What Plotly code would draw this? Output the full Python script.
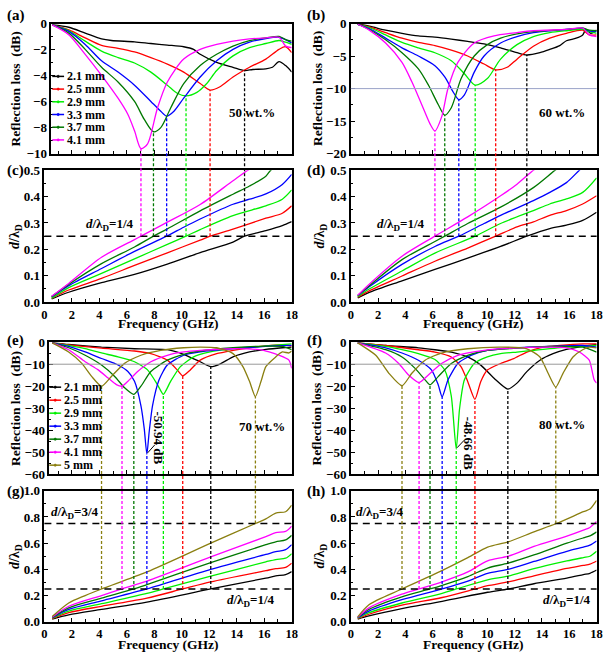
import plotly.graph_objects as go

W, H = 610, 661
FONT = "Liberation Serif"
COLORS = ["#000000", "#ff0000", "#00f000", "#0000ff", "#007800", "#ff00ff", "#8a7f10"]
THICK6 = ["2.1 mm", "2.5 mm", "2.9 mm", "3.3 mm", "3.7 mm", "4.1 mm"]
THICK7 = THICK6 + ["5 mm"]

# ---------------- (a) 50 wt.% reflection loss ----------------
fa = [
    [0.57, 1.77, 2.97, 4.16, 4.88, 6.56, 7.75, 8.95, 10.14, 10.86, 11.34, 12.54, 13.73, 14.57, 15.17, 16.12, 16.6, 17.08, 17.56, 18.0],
    [0.57, 1.77, 2.97, 4.16, 5.36, 6.56, 7.75, 8.95, 10.14, 11.34, 12.06, 12.78, 13.73, 14.93, 16.12, 17.08, 17.56, 18.0],
    [0.57, 1.77, 2.97, 4.16, 5.36, 6.56, 7.75, 8.95, 9.67, 10.31, 11.1, 11.82, 12.54, 13.73, 14.93, 16.12, 17.08, 17.56, 18.0],
    [0.57, 1.77, 2.97, 4.16, 5.36, 6.56, 7.75, 8.47, 8.9, 9.43, 10.14, 11.34, 12.54, 13.73, 14.93, 16.12, 17.08, 17.56, 18.0],
    [0.57, 1.77, 2.97, 4.16, 5.36, 6.56, 7.27, 7.94, 8.47, 9.19, 10.14, 11.34, 12.54, 13.73, 14.93, 16.12, 17.08, 17.56, 18.0],
    [0.57, 1.77, 2.97, 4.16, 5.36, 6.08, 6.56, 7.03, 7.51, 8.23, 8.95, 10.14, 11.34, 12.54, 13.73, 14.93, 16.12, 17.08, 17.56, 18.0],
]
rla = [
    [-0.10, -0.28, -0.73, -1.18, -1.30, -1.40, -1.53, -1.65, -1.78, -1.98, -2.36, -2.98, -3.36, -3.61, -3.53, -3.48, -3.36, -2.93, -3.23, -3.73],
    [-0.10, -0.48, -1.10, -1.68, -1.90, -2.18, -2.61, -3.11, -3.73, -4.61, -5.11, -4.86, -4.11, -3.36, -2.73, -1.98, -1.78, -2.23],
    [-0.10, -0.53, -1.35, -2.11, -2.61, -3.03, -3.73, -4.74, -5.36, -5.56, -5.29, -4.61, -3.61, -2.48, -1.85, -1.53, -1.30, -1.43, -1.60],
    [-0.10, -0.60, -1.60, -2.86, -3.73, -4.74, -5.99, -6.74, -7.12, -6.74, -5.74, -4.11, -2.86, -1.98, -1.43, -1.15, -1.05, -1.23, -1.48],
    [-0.10, -0.73, -1.98, -3.36, -4.49, -5.99, -7.37, -8.32, -8.00, -6.49, -4.61, -3.23, -2.36, -1.73, -1.30, -1.10, -0.98, -1.23, -1.35],
    [-0.10, -0.85, -2.36, -3.98, -5.74, -6.99, -8.25, -9.62, -9.25, -6.49, -4.49, -2.73, -1.98, -1.60, -1.35, -1.18, -1.10, -1.05, -1.73, -1.85],
]
fmin_a = [14.57, 12.06, 10.31, 8.9, 7.94, 7.03]
rlmin_a = [-3.61, -5.11, -5.56, -7.12, -8.32, -9.62]

# ---------------- (b) 60 wt.% reflection loss ----------------
fb = [
    [0.51, 1.35, 2.55, 3.75, 4.95, 6.16, 7.36, 8.56, 9.76, 10.97, 12.17, 12.89, 13.85, 14.57, 15.3, 15.79, 16.5, 16.98, 17.22, 17.58, 18.0],
    [0.51, 1.35, 2.55, 3.75, 4.95, 6.16, 7.36, 8.56, 9.76, 10.61, 11.45, 12.17, 13.37, 14.57, 15.79, 16.98, 17.46, 18.0],
    [0.51, 1.35, 2.55, 3.75, 4.95, 6.16, 7.36, 8.32, 9.11, 10.0, 10.97, 12.17, 13.37, 14.57, 15.79, 16.98, 17.46, 18.0],
    [0.51, 1.35, 2.55, 3.75, 4.95, 6.16, 6.88, 7.48, 7.91, 8.32, 9.04, 9.76, 10.97, 12.17, 13.37, 14.57, 15.79, 16.98, 17.46, 18.0],
    [0.51, 1.35, 2.55, 3.75, 4.95, 5.68, 6.40, 6.88, 7.36, 8.08, 9.04, 10.0, 10.97, 12.17, 13.37, 15.79, 16.98, 17.46, 18.0],
    [0.51, 1.35, 2.55, 3.75, 4.47, 5.19, 5.8, 6.16, 6.64, 7.12, 7.84, 9.04, 10.49, 12.17, 13.37, 15.79, 16.98, 17.46, 18.0],
]
rlb = [
    [-0.1, -0.4, -1.0, -1.49, -1.89, -2.09, -2.39, -2.74, -3.13, -3.73, -4.48, -4.83, -4.48, -3.98, -3.38, -2.64, -2.24, -1.74, -0.9, -1.49, -1.0],
    [-0.1, -0.5, -1.39, -2.24, -2.89, -3.38, -4.08, -4.98, -6.22, -7.11, -6.72, -5.47, -3.48, -2.24, -1.49, -1.0, -1.74, -1.74],
    [-0.1, -0.6, -1.74, -2.89, -3.73, -4.48, -5.72, -7.71, -9.45, -8.46, -5.47, -3.23, -1.99, -1.39, -1.1, -0.9, -1.24, -1.49],
    [-0.1, -0.75, -2.24, -3.73, -4.98, -6.47, -8.21, -10.45, -11.69, -10.95, -7.46, -4.98, -2.99, -1.99, -1.39, -1.1, -0.9, -0.7, -1.1, -1.24],
    [-0.1, -0.9, -2.49, -4.48, -6.97, -9.45, -12.44, -14.08, -12.94, -8.46, -4.98, -3.23, -2.24, -1.59, -1.24, -0.9, -0.7, -1.0, -1.1],
    [-0.1, -1.0, -2.99, -5.97, -8.96, -12.44, -15.42, -16.52, -14.43, -9.95, -5.97, -2.99, -1.89, -1.39, -1.1, -0.9, -0.7, -1.74, -1.99],
]
fmin_b = [12.89, 10.61, 9.11, 7.91, 6.88, 6.16]
rlmin_b = [-4.83, -7.11, -9.45, -11.69, -14.08, -16.52]

# ---------------- (c) 50 wt.% d/lambda ----------------
fc = [
    [0.53, 1.77, 4.16, 6.56, 8.95, 11.34, 13.73, 14.57, 16.12, 17.32, 18.0],
    [0.53, 1.77, 4.16, 6.56, 8.95, 11.34, 12.06, 13.73, 16.12, 17.32, 18.0],
    [0.53, 1.77, 4.16, 6.56, 8.95, 10.31, 11.34, 13.73, 16.12, 17.32, 18.0],
    [0.53, 1.77, 4.16, 6.56, 8.9, 10.14, 11.34, 13.73, 14.93, 16.12, 17.32, 18.0],
    [0.53, 1.77, 4.16, 6.56, 7.94, 8.95, 11.34, 13.73, 14.93, 16.12, 16.48, 17.0],
    [0.53, 1.77, 4.16, 6.56, 7.03, 8.95, 11.34, 13.73, 14.81, 15.3],
]
dc = [
    [0.0125, 0.0375, 0.074, 0.105, 0.144, 0.1875, 0.2275, 0.25, 0.271, 0.29, 0.305],
    [0.015, 0.046, 0.09, 0.139, 0.187, 0.235, 0.25, 0.277, 0.318, 0.337, 0.365],
    [0.015, 0.055, 0.109, 0.164, 0.219, 0.25, 0.275, 0.328, 0.365, 0.39, 0.425],
    [0.02, 0.0625, 0.1275, 0.1925, 0.25, 0.284, 0.315, 0.371, 0.39, 0.41, 0.446, 0.484],
    [0.021, 0.0675, 0.146, 0.209, 0.25, 0.2775, 0.346, 0.409, 0.44, 0.4775, 0.5, 0.515],
    [0.0225, 0.071, 0.17, 0.237, 0.25, 0.303, 0.37, 0.46, 0.5, 0.515],
]

# ---------------- (d) 60 wt.% d/lambda ----------------
fd = [
    [0.51, 1.35, 3.75, 6.16, 8.56, 10.97, 12.89, 14.57, 15.79, 16.98, 18.0],
    [0.51, 1.35, 3.75, 6.16, 8.56, 10.61, 12.17, 13.37, 14.57, 15.79, 16.98, 18.0],
    [0.51, 1.35, 3.75, 6.16, 9.11, 10.97, 13.37, 14.57, 15.79, 16.98, 18.0],
    [0.51, 1.35, 3.75, 6.16, 7.91, 9.76, 10.97, 13.37, 14.57, 15.79, 16.74, 17.2],
    [0.51, 1.35, 3.75, 6.16, 6.88, 8.56, 10.97, 13.37, 14.96, 15.5],
    [0.51, 1.35, 3.75, 6.16, 8.56, 10.97, 12.17, 13.37, 13.8],
]
dd = [
    [0.016, 0.037, 0.081, 0.124, 0.167, 0.211, 0.25, 0.279, 0.292, 0.31, 0.341],
    [0.019, 0.043, 0.099, 0.155, 0.205, 0.25, 0.285, 0.304, 0.329, 0.347, 0.372, 0.403],
    [0.021, 0.05, 0.118, 0.186, 0.25, 0.298, 0.347, 0.372, 0.391, 0.416, 0.471],
    [0.024, 0.058, 0.143, 0.211, 0.25, 0.298, 0.329, 0.385, 0.416, 0.453, 0.5, 0.52],
    [0.025, 0.062, 0.161, 0.23, 0.25, 0.298, 0.36, 0.434, 0.5, 0.52],
    [0.026, 0.068, 0.174, 0.25, 0.323, 0.403, 0.447, 0.5, 0.515],
]

# ---------------- (e) 70 wt.% reflection loss ----------------
fe = [
    [0.57, 1.77, 4.16, 6.56, 8.95, 10.14, 11.34, 12.11, 12.78, 13.73, 14.93, 16.12, 17.32, 18.0],
    [0.57, 1.77, 4.16, 6.56, 7.75, 8.95, 9.67, 10.07, 10.62, 11.34, 12.54, 13.73, 14.93, 16.12, 17.32, 18.0],
    [0.57, 1.77, 2.97, 4.16, 5.36, 6.56, 7.51, 8.23, 8.66, 9.19, 9.9, 10.86, 12.06, 13.73, 15.17, 16.6, 18.0],
    [0.57, 1.77, 2.97, 4.16, 5.36, 6.08, 6.56, 7.03, 7.27, 7.46, 7.63, 7.87, 8.35, 8.95, 10.14, 11.34, 13.73, 16.12, 18.0],
    [0.57, 1.77, 2.97, 4.16, 5.12, 5.84, 6.51, 7.03, 7.75, 8.95, 10.14, 11.34, 13.73, 16.12, 17.32, 18.0],
    [0.57, 1.77, 2.97, 3.92, 4.64, 5.24, 5.65, 6.08, 6.79, 7.75, 8.95, 10.14, 11.34, 13.73, 15.65, 16.36, 17.08, 17.8, 18.0],
    [0.57, 1.77, 2.73, 3.44, 4.16, 4.88, 5.84, 7.03, 8.47, 10.14, 11.34, 12.54, 13.73, 14.45, 14.93, 15.36, 15.77, 16.12, 16.84, 17.32, 17.8, 18.0],
]
rle = [
    [-0.3, -1.04, -2.22, -2.96, -3.41, -5.48, -8.89, -11.11, -9.93, -6.67, -4.44, -3.26, -2.52, -2.22],
    [-0.3, -1.19, -2.67, -4.0, -5.19, -8.15, -12.59, -15.26, -12.59, -8.15, -5.19, -3.7, -2.52, -1.63, -1.19, -1.63],
    [-0.3, -1.48, -2.96, -4.89, -6.67, -8.89, -12.59, -19.26, -23.7, -17.78, -11.11, -6.67, -4.44, -2.96, -2.22, -1.48, -0.74],
    [-0.3, -1.93, -4.44, -7.41, -10.37, -13.33, -17.78, -28.9, -39.3, -50.94, -40.7, -28.9, -17.04, -10.37, -5.93, -4.44, -2.96, -1.93, -1.48],
    [-0.3, -2.52, -5.93, -10.37, -15.56, -20.74, -23.7, -20.0, -13.33, -8.15, -5.48, -4.0, -2.52, -1.78, -1.93, -3.41],
    [-0.3, -3.41, -8.89, -12.59, -16.3, -19.26, -20.0, -17.78, -13.33, -8.89, -5.93, -4.44, -3.7, -2.96, -3.41, -4.44, -5.93, -8.15, -11.85],
    [-0.3, -4.44, -9.63, -15.56, -20.0, -15.56, -9.63, -5.93, -3.7, -2.52, -2.22, -2.52, -5.19, -11.11, -17.78, -24.74, -17.78, -11.11, -6.67, -4.44, -4.89, -4.0],
]
fmin_e = [12.11, 10.07, 8.66, 7.46, 6.51, 5.65, 4.16, 15.36]
rlmin_e = [-11.11, -15.26, -23.7, -50.94, -23.7, -20.0, -20.0, -24.74]
dtarget_e = [0.25, 0.25, 0.25, 0.25, 0.25, 0.25, 0.25, 0.75]

# ---------------- (f) 80 wt.% reflection loss ----------------
ff = [
    [0.51, 2.55, 4.95, 6.16, 7.36, 8.56, 9.52, 10.49, 11.5, 12.17, 12.89, 13.85, 14.81, 15.79, 16.98, 18.0],
    [0.51, 2.55, 4.95, 6.16, 7.36, 8.08, 8.56, 9.09, 9.52, 10.0, 10.97, 11.93, 12.89, 13.85, 15.3, 16.98, 18.0],
    [0.51, 2.55, 3.75, 4.95, 6.16, 6.88, 7.36, 7.72, 7.96, 8.32, 9.04, 10.0, 10.97, 12.17, 13.37, 15.79, 18.0],
    [0.51, 2.55, 3.75, 4.95, 5.92, 6.40, 6.69, 7.12, 7.84, 8.8, 10.0, 12.17, 14.57, 16.98, 18.0],
    [0.51, 2.55, 3.75, 4.71, 5.44, 5.8, 6.40, 7.36, 8.56, 10.0, 12.17, 14.57, 16.98, 18.0],
    [0.51, 2.55, 3.51, 4.23, 5.0, 5.68, 6.64, 7.84, 9.76, 12.17, 14.57, 15.79, 16.74, 17.46, 17.82, 18.0],
    [0.51, 1.83, 2.79, 3.75, 4.47, 5.44, 6.64, 8.56, 10.97, 12.89, 13.85, 14.45, 15.01, 15.54, 16.27, 16.98, 17.46, 18.0],
]
rlf = [
    [-0.3, -1.49, -2.53, -3.42, -4.46, -6.7, -10.42, -16.37, -21.3, -18.6, -13.39, -8.18, -5.21, -3.27, -1.93, -1.04],
    [-0.3, -1.49, -3.42, -4.46, -6.7, -11.16, -17.86, -26.0, -17.86, -12.65, -9.67, -7.44, -4.46, -2.53, -1.49, -0.74, -0.74],
    [-0.3, -1.93, -3.42, -5.21, -7.89, -12.65, -24.55, -48.66, -30.5, -17.11, -9.67, -6.7, -5.21, -4.46, -3.72, -2.23, -1.49],
    [-0.3, -2.53, -4.91, -8.18, -12.65, -19.35, -24.85, -17.11, -9.67, -5.95, -3.72, -2.53, -1.93, -1.49, -2.23],
    [-0.3, -3.42, -6.7, -11.9, -17.11, -19.35, -15.63, -9.67, -5.95, -3.72, -2.68, -1.93, -2.23, -4.46],
    [-0.3, -4.91, -9.67, -14.88, -18.3, -14.88, -9.67, -5.95, -3.72, -2.53, -2.23, -2.53, -4.46, -8.18, -17.11, -18.6],
    [-0.3, -5.95, -14.14, -19.8, -14.14, -8.18, -4.91, -2.98, -2.23, -2.98, -6.7, -14.14, -20.4, -14.14, -6.7, -3.42, -2.23, -2.53],
]
fmin_f = [11.5, 9.09, 7.72, 6.69, 5.8, 5.0, 3.75, 15.01]
rlmin_f = [-21.3, -26.0, -48.66, -24.85, -19.35, -18.3, -19.8, -20.4]
dtarget_f = [0.25, 0.25, 0.25, 0.25, 0.25, 0.25, 0.25, 0.75]

# ---------------- (g) 70 wt.% d/lambda ----------------
fg = [
    [0.57, 1.77, 4.16, 7.46, 12.11, 16.12, 16.84, 17.56, 18.0],
    [0.57, 1.77, 4.16, 7.46, 10.07, 12.11, 16.12, 16.84, 17.56, 18.0],
    [0.57, 1.77, 4.16, 7.46, 8.66, 12.11, 16.12, 16.84, 17.56, 18.0],
    [0.57, 1.77, 4.16, 7.46, 12.11, 16.12, 16.84, 17.56, 18.0],
    [0.57, 1.77, 4.16, 6.51, 7.46, 12.11, 16.12, 16.84, 17.56, 18.0],
    [0.57, 1.77, 4.16, 5.65, 7.46, 12.11, 16.12, 16.84, 17.56, 18.0],
    [0.57, 1.77, 2.97, 4.16, 7.46, 12.11, 15.36, 16.12, 16.84, 17.56, 18.0],
]
dg = [
    [0.02, 0.052, 0.094, 0.15, 0.25, 0.333, 0.35, 0.36, 0.383],
    [0.024, 0.069, 0.118, 0.18, 0.25, 0.304, 0.39, 0.405, 0.415, 0.447],
    [0.027, 0.081, 0.138, 0.217, 0.25, 0.348, 0.457, 0.475, 0.485, 0.52],
    [0.03, 0.094, 0.16, 0.25, 0.40, 0.514, 0.535, 0.55, 0.588],
    [0.033, 0.106, 0.18, 0.25, 0.283, 0.452, 0.588, 0.61, 0.625, 0.66],
    [0.035, 0.118, 0.2, 0.25, 0.31, 0.495, 0.65, 0.68, 0.69, 0.73],
    [0.04, 0.143, 0.2, 0.25, 0.38, 0.6, 0.75, 0.785, 0.83, 0.84, 0.89],
]

# ---------------- (h) 80 wt.% d/lambda ----------------
fh = [
    [0.51, 1.33, 3.74, 6.69, 10.02, 11.52, 13.41, 15.82, 17.03, 17.51, 18.0],
    [0.51, 1.33, 3.74, 6.69, 9.11, 10.02, 11.52, 13.41, 15.82, 17.03, 17.51, 18.0],
    [0.51, 1.33, 3.74, 6.69, 7.73, 10.02, 11.52, 13.41, 15.82, 17.03, 17.51, 18.0],
    [0.51, 1.33, 3.74, 6.69, 8.57, 10.02, 11.52, 13.41, 15.82, 17.03, 17.51, 18.0],
    [0.51, 1.33, 3.74, 5.8, 6.69, 8.57, 10.02, 11.52, 13.41, 15.82, 17.03, 17.51, 18.0],
    [0.51, 1.33, 3.74, 5.0, 6.69, 8.57, 10.02, 11.52, 13.41, 15.82, 17.03, 17.51, 18.0],
    [0.51, 1.33, 3.74, 6.16, 8.57, 10.02, 11.52, 13.41, 15.05, 17.03, 17.51, 18.0],
]
dh = [
    [0.02, 0.044, 0.1, 0.156, 0.225, 0.25, 0.29, 0.333, 0.36, 0.37, 0.395],
    [0.024, 0.057, 0.126, 0.185, 0.25, 0.275, 0.304, 0.35, 0.407, 0.43, 0.44, 0.464],
    [0.027, 0.069, 0.143, 0.217, 0.25, 0.32, 0.348, 0.405, 0.464, 0.49, 0.5, 0.538],
    [0.03, 0.081, 0.168, 0.25, 0.31, 0.37, 0.4, 0.46, 0.538, 0.57, 0.585, 0.617],
    [0.032, 0.094, 0.19, 0.25, 0.278, 0.345, 0.41, 0.447, 0.51, 0.6, 0.64, 0.655, 0.686],
    [0.034, 0.106, 0.21, 0.25, 0.305, 0.38, 0.465, 0.5, 0.575, 0.654, 0.7, 0.72, 0.765],
    [0.037, 0.13, 0.25, 0.365, 0.49, 0.57, 0.61, 0.686, 0.75, 0.84, 0.86, 0.926],
]

# ---------------- layout geometry (pixels) ----------------
panels = {
    "a": dict(ax="", x=(49, 293), y=(17, 150), xr=[0.5, 18], yr=[-10, 0], dt=2, mdt=1, lab=False),
    "b": dict(ax="2", x=(353, 602.5), y=(17, 150), xr=[0, 18], yr=[-20, 0], dt=5, mdt=2.5, lab=False),
    "c": dict(ax="3", x=(42, 293), y=(167, 302), xr=[0, 18], yr=[0, 0.5], dt=0.1, mdt=0.05, lab=True),
    "d": dict(ax="4", x=(353, 602.5), y=(167, 302), xr=[0, 18], yr=[0, 0.5], dt=0.1, mdt=0.05, lab=True),
    "e": dict(ax="5", x=(47, 293), y=(343, 478), xr=[0.36, 18], yr=[-60, 0], dt=10, mdt=5, lab=False),
    "f": dict(ax="6", x=(353, 602.5), y=(343, 478), xr=[0, 18], yr=[-60, 0], dt=10, mdt=5, lab=False),
    "g": dict(ax="7", x=(42, 293), y=(495, 629), xr=[0, 18], yr=[0, 1.0], dt=0.2, mdt=0.1, lab=True),
    "h": dict(ax="8", x=(353, 602.5), y=(495, 629), xr=[0, 18], yr=[0, 1.0], dt=0.2, mdt=0.1, lab=True),
}
for p in panels.values():
    p["xd"] = [p["x"][0] / W, p["x"][1] / W]
    p["yd"] = [1 - p["y"][1] / H, 1 - p["y"][0] / H]


def ypaper(p, v):
    return p["yd"][0] + (v - p["yr"][0]) / (p["yr"][1] - p["yr"][0]) * (p["yd"][1] - p["yd"][0])


fig = go.Figure()
layout = {}
shapes = []
annotations = []

for key, p in panels.items():
    a = p["ax"]
    isd = p["yr"][0] >= 0
    layout["xaxis" + a] = dict(
        domain=p["xd"], range=p["xr"], anchor="y" + a, showline=True, linecolor="black",
        linewidth=1.5, mirror=True, ticks="inside", ticklen=4, tickwidth=1.2, tickcolor="black",
        tick0=0, dtick=2, minor=dict(ticks="inside", ticklen=3, dtick=1, tickcolor="black", tickwidth=1),
        showgrid=False, zeroline=False, showticklabels=p["lab"], tickfont=dict(size=12.5),
        fixedrange=True,
    )
    layout["yaxis" + a] = dict(
        domain=p["yd"], range=p["yr"], anchor="x" + a, showline=True, linecolor="black",
        linewidth=1.5, mirror=True, ticks="inside", ticklen=4, tickwidth=1.2, tickcolor="black",
        tick0=0, dtick=p["dt"], minor=dict(ticks="inside", ticklen=2, dtick=p["mdt"], tickcolor="black", tickwidth=1),
        showgrid=False, zeroline=False, tickfont=dict(size=13),
        tickformat=".1f" if isd else "d", fixedrange=True,
    )


def add_curves(p, fl, vl, width=1.3, smooth=0.8):
    a = p["ax"]
    for i, (f, v) in enumerate(zip(fl, vl)):
        fig.add_trace(go.Scatter(
            x=f, y=v, mode="lines", showlegend=False, hoverinfo="skip",
            line=dict(color=COLORS[i], width=width, shape="spline", smoothing=smooth),
            xaxis="x" + a, yaxis="y" + a,
        ))


add_curves(panels["a"], fa, rla)
add_curves(panels["b"], fb, rlb)
add_curves(panels["c"], fc, dc)
add_curves(panels["d"], fd, dd)
add_curves(panels["e"], fe, rle, smooth=0.6)
add_curves(panels["f"], ff, rlf, smooth=0.6)
add_curves(panels["g"], fg, dg)
add_curves(panels["h"], fh, dh)

# reference lines
for key, col in (("b", "#9aa3c8"), ("e", "#9a9a9a"), ("f", "#9a9a9a")):
    a = panels[key]["ax"]
    shapes.append(dict(type="line", xref="x%s domain" % a, yref="y" + a, x0=0, x1=1, y0=-10, y1=-10,
                       line=dict(color=col, width=1)))
for key, levels in (("c", [0.25]), ("d", [0.25]), ("g", [0.25, 0.75]), ("h", [0.25, 0.75])):
    a = panels[key]["ax"]
    for lv in levels:
        shapes.append(dict(type="line", xref="x%s domain" % a, yref="y" + a, x0=0, x1=1, y0=lv, y1=lv,
                           line=dict(color="black", width=1.5, dash="7px,5px")))


# vertical dashed connectors (from the RL minimum down to the quarter-wavelength line)
def connectors(top, bot, fmins, rlmins, targets):
    for i, (fm, rm, tg) in enumerate(zip(fmins, rlmins, targets)):
        col = COLORS[min(i, len(COLORS) - 1)]
        shapes.append(dict(type="line", xref="x" + bot["ax"], yref="paper", x0=fm, x1=fm,
                           y0=ypaper(bot, tg), y1=ypaper(top, rm),
                           line=dict(color=col, width=1.3, dash="3px,2px")))


connectors(panels["a"], panels["c"], fmin_a, rlmin_a, [0.25] * 6)
connectors(panels["b"], panels["d"], fmin_b, rlmin_b, [0.25] * 6)
connectors(panels["e"], panels["g"], fmin_e, rlmin_e, dtarget_e)
connectors(panels["f"], panels["h"], fmin_f, rlmin_f, dtarget_f)


# legends (drawn manually for compact spacing; line with a small symbol)
def legend(names, x_px, y0_px, dy_px):
    for i, n in enumerate(names):
        yc = y0_px + i * dy_px
        yp = 1 - yc / H
        shapes.append(dict(type="line", xref="paper", yref="paper", x0=x_px / W, x1=(x_px + 12) / W,
                           y0=yp, y1=yp, line=dict(color=COLORS[i], width=1.5)))
        shapes.append(dict(type="circle", xref="paper", yref="paper",
                           x0=(x_px + 4.8) / W, x1=(x_px + 7.2) / W,
                           y0=1 - (yc + 1.2) / H, y1=1 - (yc - 1.2) / H,
                           fillcolor=COLORS[i], line=dict(color=COLORS[i], width=0.5)))
        annotations.append(dict(text=n, x=(x_px + 13) / W, y=yp, xref="paper", yref="paper",
                                xanchor="left", yanchor="middle", showarrow=False, font=dict(size=12)))


legend(THICK6, 50, 71, 13)
legend(THICK7, 47, 389, 13.3)


def ann(text, x, y, xref, yref, **kw):
    d = dict(text=text, x=x, y=y, xref=xref, yref=yref, showarrow=False)
    d.update(kw)
    annotations.append(d)


# panel letters
for key, (px, py) in {"a": (2, 9), "b": (307, 9), "c": (2, 167), "d": (307, 167),
                      "e": (2, 341), "f": (307, 341), "g": (2, 496), "h": (307, 496)}.items():
    ann("(%s)" % key, px / W, 1 - py / H, "paper", "paper", xanchor="left", yanchor="middle",
        font=dict(size=15))

# y-axis titles
for key, xp in (("a", 13), ("b", 319), ("e", 12), ("f", 318)):
    p = panels[key]
    ann("Reflection loss  (dB)", xp / W, (p["yd"][0] + p["yd"][1]) / 2, "paper", "paper",
        textangle=-90, xanchor="center", yanchor="middle", font=dict(size=13.5))
for key, xp in (("c", 12), ("d", 322), ("g", 12), ("h", 322)):
    p = panels[key]
    ann("<i>d</i>/λ<sub>D</sub>", xp / W, (p["yd"][0] + p["yd"][1]) / 2, "paper", "paper",
        textangle=-90, xanchor="center", yanchor="middle", font=dict(size=14))

# x-axis titles
for key, ypx in (("c", 324), ("d", 324), ("g", 652), ("h", 652)):
    p = panels[key]
    ann("Frequency (GHz)", (p["xd"][0] + p["xd"][1]) / 2, 1 - ypx / H, "paper", "paper",
        xanchor="center", yanchor="middle", font=dict(size=13.5))

# concentration labels
ann("50 wt.%", 15.1, -6.84, "x", "y", font=dict(size=13))
ann("60 wt.%", 15.5, -13.7, "x2", "y2", font=dict(size=13))
ann("70 wt.%", 15.85, -38.2, "x5", "y5", font=dict(size=13))
ann("80 wt.%", 15.45, -37.3, "x6", "y6", font=dict(size=13))

# d/lambda labels
L14 = "<i>d</i>/λ<sub>D</sub>=1/4"
L34 = "<i>d</i>/λ<sub>D</sub>=3/4"
ann(L14, 2.85, 0.256, "x3", "y3", xanchor="left", yanchor="bottom", font=dict(size=13))
ann(L14, 1.75, 0.256, "x4", "y4", xanchor="left", yanchor="bottom", font=dict(size=13))
ann(L34, 0.3, 0.757, "x7", "y7", xanchor="left", yanchor="bottom", font=dict(size=13))
ann(L14, 16.9, 0.243, "x7", "y7", xanchor="right", yanchor="top", font=dict(size=13))
ann(L34, 0.25, 0.757, "x8", "y8", xanchor="left", yanchor="bottom", font=dict(size=13))
ann(L14, 17.7, 0.243, "x8", "y8", xanchor="right", yanchor="top", font=dict(size=13))

# minimum value callouts
ann("-50.94 dB", 8.3, -43.5, "x5", "y5", textangle=90, font=dict(size=13))
shapes.append(dict(type="line", xref="x5", yref="y5", x0=7.52, y0=-50.3, x1=8.05, y1=-46.6,
                   line=dict(color="black", width=1)))
ann("-48.66 dB", 8.62, -46.0, "x6", "y6", textangle=90, font=dict(size=13))
shapes.append(dict(type="line", xref="x6", yref="y6", x0=7.78, y0=-48.0, x1=8.3, y1=-44.6,
                   line=dict(color="black", width=1)))

layout.update(
    width=W, height=H, margin=dict(l=0, r=0, t=0, b=0), paper_bgcolor="white", plot_bgcolor="white",
    font=dict(family=FONT, size=13, color="black", weight="bold"), showlegend=False,
    shapes=shapes, annotations=annotations,
)
fig.update_layout(**layout)
fig.write_html("out.html", config={"displayModeBar": False},
               post_script="document.body.style.margin='0px';document.body.style.overflow='hidden';")
